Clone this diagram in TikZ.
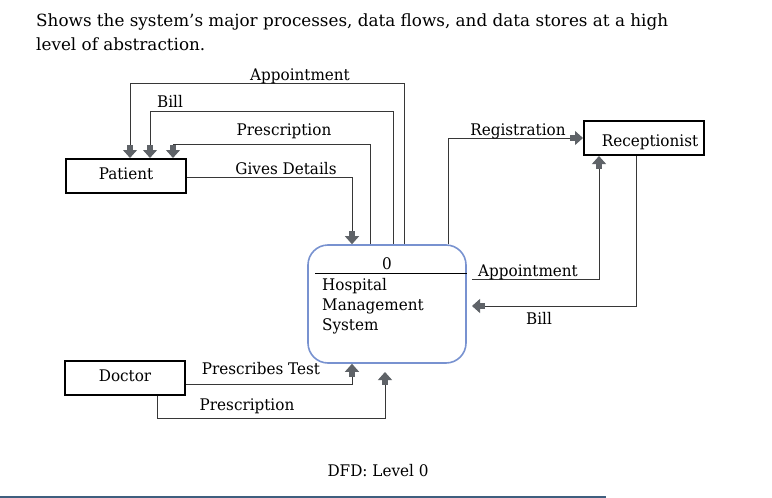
\documentclass[tikz,border=0pt]{standalone}
\usepackage{fontspec}
\setmainfont{DejaVu Serif}
\newfontfamily\dfont[FakeStretch=0.95]{DejaVu Serif}
\newfontfamily\tfont[FakeStretch=1.0]{DejaVu Serif}
\usetikzlibrary{arrows.meta}
\definecolor{tipgray}{RGB}{95,99,104}
\definecolor{linegray}{RGB}{55,55,55}
\definecolor{procblue}{RGB}{120,146,208}
\definecolor{rulecol}{RGB}{63,95,127}
\begin{document}
\begin{tikzpicture}[x=1pt,y=-1pt,
  entity/.style={draw=black,line width=2pt,minimum width=120pt,minimum height=34pt,
    inner sep=0pt,text height=10pt,text depth=4pt,font=\dfont\fontsize{16}{20}\selectfont},
  process/.style={draw=procblue,line width=1.6pt,rounded corners=20pt,
    minimum width=158pt,minimum height=118pt,inner sep=0pt},
  lbl/.style={anchor=base,inner sep=0pt,font=\dfont\fontsize{16}{20}\selectfont},
  ttl/.style={anchor=base west,inner sep=0pt,font=\tfont\fontsize{16.8}{24}\selectfont},
  flow/.style={draw=linegray,line width=1pt,
    -{Rectangle[width=6pt,length=6pt,sep=-1pt,color=tipgray,fill=tipgray]
      Triangle[width=14pt,length=8pt,sep=0pt,color=tipgray,fill=tipgray]}}
]
\useasboundingbox (0,0) rectangle (772,498);
\fill[white] (0,0) rectangle (772,498);

% title
\node[ttl] (t1) at (36,26) {Shows the system’s major processes, data flows, and data stores at a high};
\node[ttl] (t2) at (36,50) {level of abstraction.};

% entities
\node[entity] (pat) at (126,176) {Patient};
\node[entity] (doc) at (125,378) {Doctor};
\node[entity,text height=16pt,text depth=0pt] (rec) at (644,138) {\hspace*{12pt}Receptionist};

% process
\node[process] (proc) at (387,304) {};
\draw[line width=1pt] (315,273) -- (proc.east |- 0,273);
\node[lbl] (pnum) at (387,269) {0};
\node[lbl,anchor=base west] (pn1) at (322,290) {Hospital};
\node[lbl,anchor=base west] (pn2) at (322,310) {Management};
\node[lbl,anchor=base west] (pn3) at (322,330) {System};

% free ends
\coordinate (apstart) at (472,279);
\coordinate (billend) at (472,306);
\coordinate (presend) at (385,372);

% flows to/from patient
\draw[flow] (proc.north -| 404,0) -- (404,83) -| (pat.north -| 130,0);
\node[lbl] (l1) at (300,80) {Appointment};
\draw[flow] (proc.north -| 393,0) -- (393,111) -| (pat.north -| 150,0);
\node[lbl] (l2) at (170,107) {Bill};
\draw[flow] (proc.north -| 370,0) -- (370,144) -| (pat.north -| 173,0);
\node[lbl] (l3) at (284,135) {Prescription};
\draw[flow] (pat.east |- 0,177) -| (proc.north -| 352,0);
\node[lbl] (l4) at (286,174) {Gives Details};

% receptionist
\draw[flow] (proc.north -| 448,0) |- (rec.west);
\node[lbl] (l5) at (518,135) {Registration};
\draw[flow] (apstart) -| (rec.south -| 599,0);
\node[lbl] (l6) at (528,276) {Appointment};
\draw[flow] (rec.south -| 636,0) |- (billend);
\node[lbl] (l7) at (539,324) {Bill};

% doctor
\draw[flow] (doc.east |- 0,384) -| (proc.south -| 352,0);
\node[lbl] (l8) at (261,374) {Prescribes Test};
\draw[flow] (doc.south -| 157,0) |- (385,418) -- (presend);
\node[lbl] (l9) at (247,410) {Prescription};

% caption
\node[lbl] (cap) at (378,476) {DFD: Level 0};
\draw[rulecol,line width=1.5pt] (0,497) -- (606,497);
\end{tikzpicture}
\end{document}
